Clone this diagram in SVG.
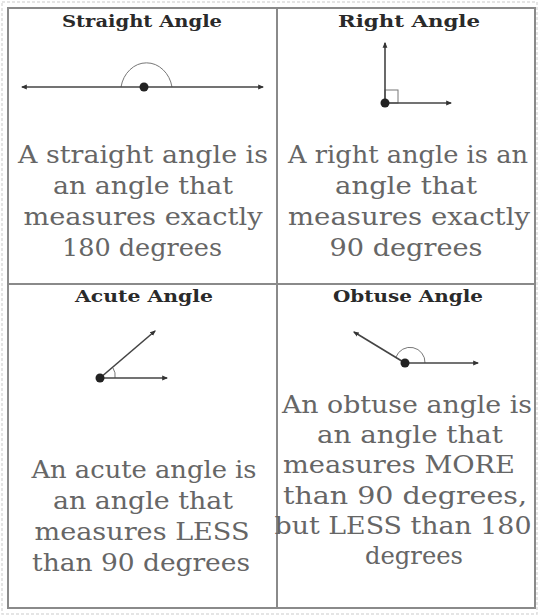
<svg xmlns="http://www.w3.org/2000/svg" width="539" height="616" viewBox="0 0 539 616">
<defs>
<marker id="arr" viewBox="0 0 10 10" refX="8" refY="5" markerWidth="6" markerHeight="6" orient="auto" markerUnits="userSpaceOnUse">
<path d="M0,1 L10,5 L0,9 Z" fill="#333"/>
</marker>
<style>
.title{font-family:"DejaVu Serif",serif;font-weight:bold;font-size:16px;fill:#2a2a2a;text-anchor:middle}
.body{font-family:"DejaVu Serif",serif;font-size:24px;fill:#666;text-anchor:middle}
.ray{stroke:#444;stroke-width:1.6;fill:none}
.arc{stroke:#777;stroke-width:1;fill:none}
.grid{stroke:#8a8a8a;stroke-width:2;fill:none}
</style>
</defs>
<rect width="539" height="616" fill="#fff"/>
<rect x="2" y="2" width="535" height="612" fill="none" stroke="#ddd" stroke-width="1.5" stroke-dasharray="3 2"/>
<g id="frame">
<rect class="grid" x="8" y="8" width="527" height="600"/>
<line class="grid" x1="277" y1="8" x2="277" y2="608"/>
<line class="grid" x1="8" y1="284" x2="535" y2="284"/>
</g>
<g id="straight">
<text class="title" x="142" y="27" textLength="160" lengthAdjust="spacingAndGlyphs">Straight Angle</text>
<path class="arc" d="M121,87 A26,30 0 0 1 172,87"/>
<line class="ray" x1="144" y1="87" x2="22" y2="87" marker-end="url(#arr)"/>
<line class="ray" x1="144" y1="87" x2="263" y2="87" marker-end="url(#arr)"/>
<circle cx="144" cy="87" r="4.5" fill="#222"/>
<text class="body" x="143" y="163" textLength="250" lengthAdjust="spacingAndGlyphs">A straight angle is</text>
<text class="body" x="143" y="194" textLength="180" lengthAdjust="spacingAndGlyphs">an angle that</text>
<text class="body" x="143" y="225" textLength="239" lengthAdjust="spacingAndGlyphs">measures exactly</text>
<text class="body" x="142" y="256" textLength="160" lengthAdjust="spacingAndGlyphs">180 degrees</text>
</g>
<g id="right">
<text class="title" x="409" y="27" textLength="142" lengthAdjust="spacingAndGlyphs">Right Angle</text>
<rect x="385" y="90" width="13" height="13" fill="none" stroke="#777" stroke-width="1"/>
<line class="ray" x1="385" y1="103" x2="385" y2="43" marker-end="url(#arr)"/>
<line class="ray" x1="385" y1="103" x2="451" y2="103" marker-end="url(#arr)"/>
<circle cx="385" cy="103" r="4.5" fill="#222"/>
<text class="body" x="408" y="163" textLength="240" lengthAdjust="spacingAndGlyphs">A right angle is an</text>
<text class="body" x="406" y="194" textLength="142" lengthAdjust="spacingAndGlyphs">angle that</text>
<text class="body" x="409" y="225" textLength="242" lengthAdjust="spacingAndGlyphs">measures exactly</text>
<text class="body" x="406" y="256" textLength="153" lengthAdjust="spacingAndGlyphs">90 degrees</text>
</g>
<g id="acute">
<text class="title" x="144" y="302" textLength="138" lengthAdjust="spacingAndGlyphs">Acute Angle</text>
<path class="arc" d="M113,368 A14,14 0 0 1 115,378"/>
<line class="ray" x1="100" y1="378" x2="155" y2="331" marker-end="url(#arr)"/>
<line class="ray" x1="100" y1="378" x2="167" y2="378" marker-end="url(#arr)"/>
<circle cx="100" cy="378" r="4.5" fill="#222"/>
<text class="body" x="144" y="478" textLength="225" lengthAdjust="spacingAndGlyphs">An acute angle is</text>
<text class="body" x="143" y="509" textLength="180" lengthAdjust="spacingAndGlyphs">an angle that</text>
<text class="body" x="142" y="540" textLength="215" lengthAdjust="spacingAndGlyphs">measures LESS</text>
<text class="body" x="141" y="571" textLength="218" lengthAdjust="spacingAndGlyphs">than 90 degrees</text>
</g>
<g id="obtuse">
<text class="title" x="408" y="302" textLength="150" lengthAdjust="spacingAndGlyphs">Obtuse Angle</text>
<path class="arc" d="M396,357 A15,15 0 0 1 425,363"/>
<line class="ray" x1="405" y1="363" x2="354" y2="332" marker-end="url(#arr)"/>
<line class="ray" x1="405" y1="363" x2="478" y2="363" marker-end="url(#arr)"/>
<circle cx="405" cy="363" r="4.5" fill="#222"/>
<text class="body" x="407" y="413" textLength="250" lengthAdjust="spacingAndGlyphs">An obtuse angle is</text>
<text class="body" x="410" y="443" textLength="186" lengthAdjust="spacingAndGlyphs">an angle that</text>
<text class="body" x="399" y="473" textLength="232" lengthAdjust="spacingAndGlyphs">measures MORE</text>
<text class="body" x="405" y="504" textLength="244" lengthAdjust="spacingAndGlyphs">than 90 degrees,</text>
<text class="body" x="403" y="534" textLength="257" lengthAdjust="spacingAndGlyphs">but LESS than 180</text>
<text class="body" x="414" y="564" textLength="98" lengthAdjust="spacingAndGlyphs">degrees</text>
</g>
</svg>
